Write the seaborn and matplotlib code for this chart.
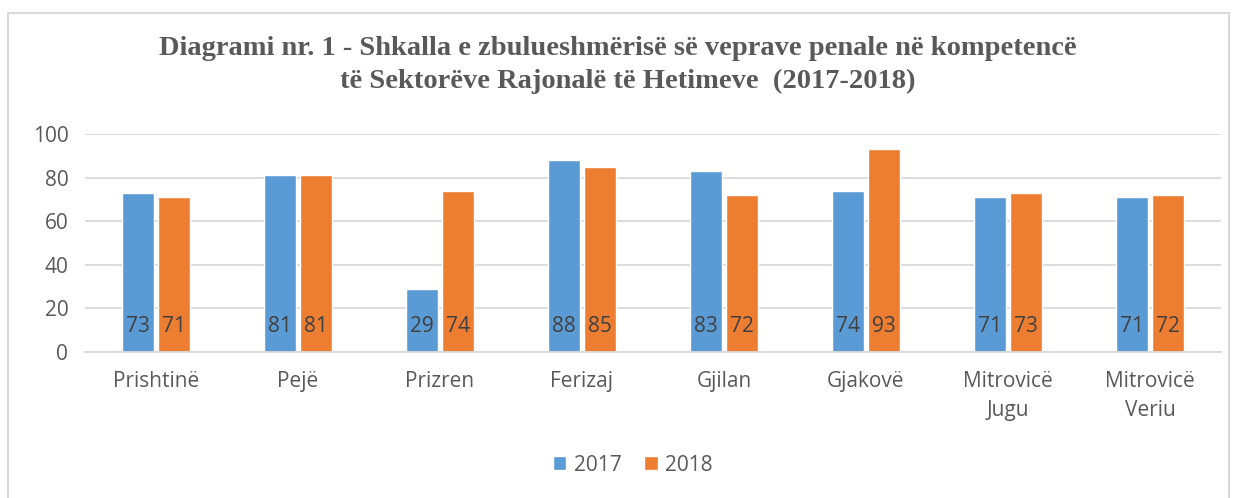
import pandas as pd
import seaborn as sns
import matplotlib.pyplot as plt
from matplotlib.patches import Rectangle, Patch

# -------------------------------
# Data
# -------------------------------
regions = ["Prishtinë", "Pejë", "Prizren", "Ferizaj", "Gjilan", "Gjakovë",
           "Mitrovicë\nJugu", "Mitrovicë\nVeriu"]
values_2017 = [73, 81, 29, 88, 83, 74, 71, 71]
values_2018 = [71, 81, 74, 85, 72, 93, 73, 72]
years = ["2017", "2018"]
colors = ["#5B9BD5", "#ED7D31"]

df = pd.DataFrame({
    "region": regions * 2,
    "year": [years[0]] * len(regions) + [years[1]] * len(regions),
    "value": values_2017 + values_2018,
})

# -------------------------------
# Plot
# -------------------------------
sns.set_style("white")
plt.rcParams['font.family'] = ['Open Sans', 'DejaVu Sans']
text_col = "#595959"
fs = 15

fig = plt.figure(figsize=(12.36, 4.98), dpi=100)
ax = fig.add_axes([85 / 1236, 1 - 352 / 498, (1221 - 85) / 1236, (352 - 134) / 498])

sns.barplot(data=df, x="region", y="value", hue="year", palette=colors,
            width=0.507, gap=0.11, ax=ax, legend=False, saturation=1)

ax.set_ylim(0, 100)
ax.set_xlim(-0.5, len(regions) - 0.5)
ax.set_yticks(range(0, 101, 20))
ax.yaxis.grid(True, color="#D9D9D9", linewidth=1.3)
ax.set_axisbelow(True)
for s in ["top", "right", "left"]:
    ax.spines[s].set_visible(False)
ax.spines["bottom"].set_color("#D9D9D9")
ax.spines["bottom"].set_linewidth(1.3)
ax.set_xlabel("")
ax.set_ylabel("")
ax.tick_params(axis="both", length=0, labelsize=fs, colors=text_col)
ax.tick_params(axis="x", pad=14)
ax.tick_params(axis="y", pad=12)
for lbl in ax.get_xticklabels():
    lbl.set_linespacing(1.45)

# data labels near the bottom of each bar
for bar in ax.patches:
    h = bar.get_height()
    if h > 0:
        ax.text(bar.get_x() + bar.get_width() / 2, 11.6, f"{h:.0f}",
                ha="center", va="center", fontsize=fs, color="#404040")

fig.text(0.5, 0.903, "Diagrami nr. 1 - Shkalla e zbulueshmërisë së veprave penale në kompetencë",
         ha="center", va="center", fontsize=20.5, fontweight="bold",
         family="Liberation Serif", color=text_col)
fig.text(0.508, 0.836, "të Sektorëve Rajonalë të Hetimeve  (2017-2018)",
         ha="center", va="center", fontsize=20.5, fontweight="bold",
         family="Liberation Serif", color=text_col)

handles = [Patch(facecolor=c, label=y) for c, y in zip(colors, years)]
fig.legend(handles=handles, loc="center", bbox_to_anchor=(0.512, 0.066), ncol=2,
           frameon=False, fontsize=fs, handlelength=0.65, handleheight=0.65,
           handletextpad=0.35, columnspacing=1.1, labelcolor=text_col)

# chart border
fig.patches.append(Rectangle((8 / 1236, -0.01), (1229 - 8) / 1236, 1 - 13 / 498 + 0.01,
                             transform=fig.transFigure, fill=False,
                             edgecolor="#D9D9D9", linewidth=1.5))

plt.savefig("out.png", dpi=100)
